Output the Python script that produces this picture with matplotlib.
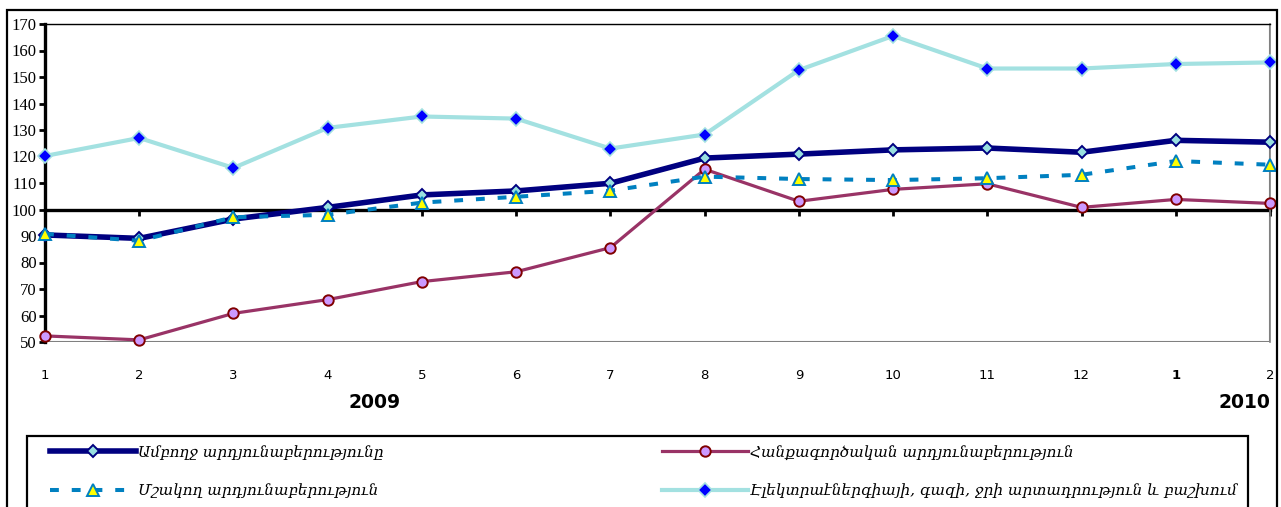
import matplotlib

matplotlib.use("Agg")
import matplotlib.pyplot as plt
from matplotlib.patches import Rectangle
from matplotlib.transforms import blended_transform_factory

# months Jan 2009 .. Feb 2010 (index, previous-year = 100)
months = list(range(1, 15))
month_labels = ["1", "2", "3", "4", "5", "6", "7", "8", "9", "10", "11", "12", "1", "2"]

total = [90.4, 89.1, 96.4, 100.8, 105.5, 107.0, 109.9, 119.4, 120.9, 122.5, 123.2, 121.6, 126.1, 125.4]
mining = [52.3, 50.8, 60.8, 66.0, 72.8, 76.5, 85.6, 115.2, 103.1, 107.6, 109.7, 100.8, 103.8, 102.3]
manufacturing = [90.8, 88.2, 97.1, 98.0, 102.6, 104.8, 107.1, 112.4, 111.5, 111.1, 111.8, 113.1, 118.3, 116.9]
energy = [120.2, 127.0, 115.7, 130.8, 135.1, 134.3, 123.0, 128.3, 152.6, 165.5, 153.2, 153.2, 154.9, 155.5]

names = [
    "Ամբողջ արդյունաբերությունը",
    "Հանքագործական արդյունաբերություն",
    "Մշակող արդյունաբերություն",
    "Էլեկտրաէներգիայի, գազի, ջրի արտադրություն և բաշխում",
]

W, H = 1281, 507
ARM = ["DejaVu Serif", "DejaVu Sans"]


def fx(px):
    return px / W


def fy(py):
    return 1 - py / H


fig = plt.figure(figsize=(W / 100, H / 100), dpi=100)
fig.patch.set_facecolor("white")

ax = fig.add_axes([fx(45), fy(342), fx(1270) - fx(45), fy(24) - fy(342)])

h_total, = ax.plot(months, total, color="#000080", lw=4.0, marker="D", ms=6.5,
                   mfc="#99e0e0", mec="#000080", mew=1.4, clip_on=False, zorder=3)
h_mining, = ax.plot(months, mining, color="#993366", lw=2.3, marker="o", ms=7.5,
                    mfc="#cc99ff", mec="#800000", mew=1.4, clip_on=False, zorder=4)
h_manuf, = ax.plot(months, manufacturing, color="#0080c0", lw=2.9, ls=(0, (2.2, 3.2)),
                   marker="^", ms=8.5, mfc="#ffff00", mec="#0080c0", mew=1.4,
                   clip_on=False, zorder=5)
h_energy, = ax.plot(months, energy, color="#a3e1e1", lw=3.0, marker="D", ms=7,
                    mfc="#0000ff", mec="#a3e1e1", mew=1.2, clip_on=False, zorder=6)

ax.set_xlim(1, 14)
ax.set_ylim(50, 170)
ax.set_yticks(range(50, 171, 10))
ax.set_xticks(months)
ax.tick_params(axis="y", direction="out", length=4, width=2, color="black",
               labelsize=12, pad=2)
for lab in ax.get_yticklabels():
    lab.set_family("Liberation Serif")
ax.tick_params(axis="x", direction="out", length=4, width=2, color="black",
               labelbottom=False)

# plot area border, then the 100 baseline as the x axis
ax.add_patch(Rectangle((0, 0), 1, 1, transform=ax.transAxes, fill=False,
                       ec="#808080", lw=1.5, zorder=0))
ax.spines["bottom"].set_position(("data", 100))
ax.spines["bottom"].set_linewidth(2.4)
ax.spines["bottom"].set_zorder(2)
ax.spines["left"].set_linewidth(2.4)
ax.spines["top"].set_linewidth(1.0)
ax.spines["right"].set_color("#808080")
ax.spines["right"].set_linewidth(1.2)

# month labels below the plot area
sec = ax.secondary_xaxis(-0.085)
sec.set_xticks(months, month_labels)
sec.spines["bottom"].set_visible(False)
sec.tick_params(length=0, pad=0, labelsize=9.5)
sec.get_xticklabels()[12].set_fontweight("bold")

tr = blended_transform_factory(ax.transData, fig.transFigure)
ax.text(4.5, fy(402), "2009", transform=tr, ha="center", va="center",
        fontsize=13.5, fontweight="bold")
fig.text(fx(1244), fy(402), "2010", ha="center", va="center",
         fontsize=13.5, fontweight="bold")

# outer chart frame and legend frame
fig.patches.append(Rectangle((fx(7), fy(515)), fx(1277) - fx(7), fy(10) - fy(515),
                             transform=fig.transFigure, fill=False, ec="black", lw=1.6))
fig.patches.append(Rectangle((fx(27), fy(515)), fx(1248) - fx(27), fy(436) - fy(515),
                             transform=fig.transFigure, fill=False, ec="black", lw=1.6))

leg_kw = dict(frameon=False, handlelength=5.6, handletextpad=0.15, labelspacing=1.55,
              borderaxespad=0, borderpad=0, loc="upper left",
              prop={"family": ARM, "style": "italic", "size": 11})
fig.legend([h_total, h_manuf], [names[0], names[2]],
           bbox_to_anchor=(fx(50), fy(445)), **leg_kw)
fig.legend([h_mining, h_energy], [names[1], names[3]],
           bbox_to_anchor=(fx(662), fy(445)), **leg_kw)

fig.savefig("out.png", dpi=100, facecolor="white")
